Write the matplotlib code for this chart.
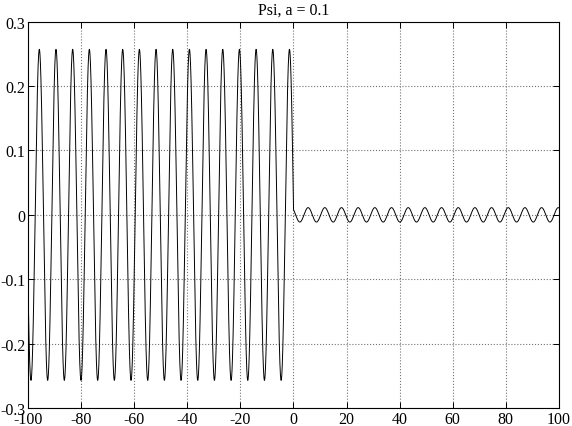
import numpy as np
import matplotlib
matplotlib.use('Agg')
import matplotlib.pyplot as plt

# Values
x_ticks = [-100, -80, -60, -40, -20, 0, 20, 40, 60, 80, 100]
x_labels = ['-100', '-80', '-60', '-40', '-20', '0', '20', '40', '60', '80', '100']
y_ticks = [-0.3, -0.2, -0.1, 0.0, 0.1, 0.2, 0.3]
y_labels = ['-0.3', '-0.2', '-0.1', '0', '0.1', '0.2', '0.3']

# left region (x < 0): large oscillation
left_amp = 0.257
left_k = 1.0
left_peak = -1.5
# right region (x > 0): small oscillation
right_amp = 0.0112
right_k = 1.0
right_trough = 2.4

x_min, x_max = -100, 100

plt.rcParams['font.family'] = ['Liberation Serif', 'DejaVu Serif']

fig = plt.figure(figsize=(5.72, 4.27), dpi=100)
ax = fig.add_axes([0.049, 0.042, 0.928, 0.905])

x_left = np.linspace(x_min, 0, 6000)
x_right = np.linspace(0, x_max, 6000)
psi_left = left_amp * np.cos(left_k * (x_left - left_peak))
psi_right = -right_amp * np.cos(right_k * (x_right - right_trough))
x_all = np.concatenate([x_left, x_right])
psi_all = np.concatenate([psi_left, psi_right])

ax.plot(x_all, psi_all, color='black', linewidth=0.7)

ax.set_xlim(x_min, x_max)
ax.set_ylim(-0.3, 0.3)
ax.set_xticks(x_ticks, x_labels)
ax.set_yticks(y_ticks, y_labels)
ax.tick_params(direction='in', top=True, right=True, length=4, width=0.7,
               labelsize=11.5, pad=2)
ax.grid(True, color='0.45', linestyle=':', linewidth=0.8)
for spine in ax.spines.values():
    spine.set_linewidth(0.8)

ax.set_title('Psi, a = 0.1', fontsize=11.5, pad=6)

plt.savefig('out.png', dpi=100)
